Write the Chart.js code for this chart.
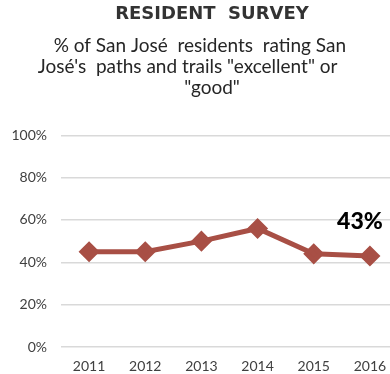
<!DOCTYPE html>
<html>
<head>
<meta charset="utf-8">
<script src="https://cdn.jsdelivr.net/npm/chart.js@4"></script>
<style>
  html, body { margin: 0; padding: 0; background: #fff; overflow: hidden; }
  #wrap { width: 424px; height: 374px; }
</style>
</head>
<body>
<div id="wrap"><canvas id="myChart"></canvas></div>
<script>
const years = ['2011', '2012', '2013', '2014', '2015', '2016']
const ratingGood = [45, 45, 50, 56, 44, 43]
const yTicks = [0, 20, 40, 60, 80, 100]

const lineColor = '#A84F45'
const fontFamily = 'Lato, "Noto Sans", sans-serif'

// big bold value next to the last point
const lastValueLabel = {
  id: 'lastValueLabel',
  afterDatasetsDraw(chart) {
    const ctx = chart.ctx
    const i = ratingGood.length - 1
    const x = chart.scales.x.getPixelForValue(i)
    const y = chart.scales.y.getPixelForValue(ratingGood[i])
    ctx.save()
    ctx.font = '900 23px ' + fontFamily
    ctx.fillStyle = '#000'
    ctx.textAlign = 'center'
    ctx.textBaseline = 'middle'
    ctx.fillText(ratingGood[i] + '%', x - 10, y - 34)
    ctx.restore()
  }
}

const ctx = document.getElementById('myChart')

new Chart(ctx, {
  type: 'line',
  data: {
    labels: years,
    datasets: [{
      label: 'Excellent or good',
      data: ratingGood,
      borderColor: lineColor,
      backgroundColor: lineColor,
      borderWidth: 5,
      pointStyle: 'rectRot',
      pointRadius: 7,
      pointHoverRadius: 7,
      tension: 0
    }]
  },
  plugins: [lastValueLabel],
  options: {
    responsive: true,
    maintainAspectRatio: false,
    animation: false,
    layout: {
      padding: 0
    },
    plugins: {
      legend: { display: false },
      tooltip: { enabled: false },
      title: {
        display: true,
        text: 'RESIDENT  SURVEY',
        color: '#333',
        font: { family: '"DejaVu Sans", sans-serif', size: 18, weight: 'bold' },
        padding: { top: 4, bottom: 10 }
      },
      subtitle: {
        display: true,
        text: ['% of San José  residents  rating San     ', 'José\'s  paths and trails "excellent" or          ', '"good"'],
        color: '#262626',
        font: { family: fontFamily, size: 19, lineHeight: 1.1 },
        padding: { top: 0, bottom: 37 }
      }
    },
    scales: {
      x: {
        offset: true,
        afterFit(scale) { scale.height = 27 },
        grid: { display: false, drawTicks: false },
        border: { display: false },
        ticks: {
          color: '#404040',
          font: { family: fontFamily, size: 14 },
          padding: 11
        }
      },
      y: {
        min: 0,
        max: 100,
        afterFit(scale) { scale.width = 61 },
        afterBuildTicks(scale) { scale.ticks = yTicks.map(v => ({ value: v })) },
        grid: { color: '#d9d9d9', lineWidth: 1.5, drawTicks: false },
        border: { display: false },
        ticks: {
          color: '#404040',
          font: { family: fontFamily, size: 14 },
          padding: 14,
          callback: v => v + '%'
        }
      },
      // empty strip on the right so the plot runs past the visible edge
      yRight: {
        type: 'linear',
        position: 'right',
        afterFit(scale) { scale.width = 26 },
        grid: { display: false, drawTicks: false },
        border: { display: false },
        ticks: { display: false }
      }
    }
  }
})
</script>
</body>
</html>
